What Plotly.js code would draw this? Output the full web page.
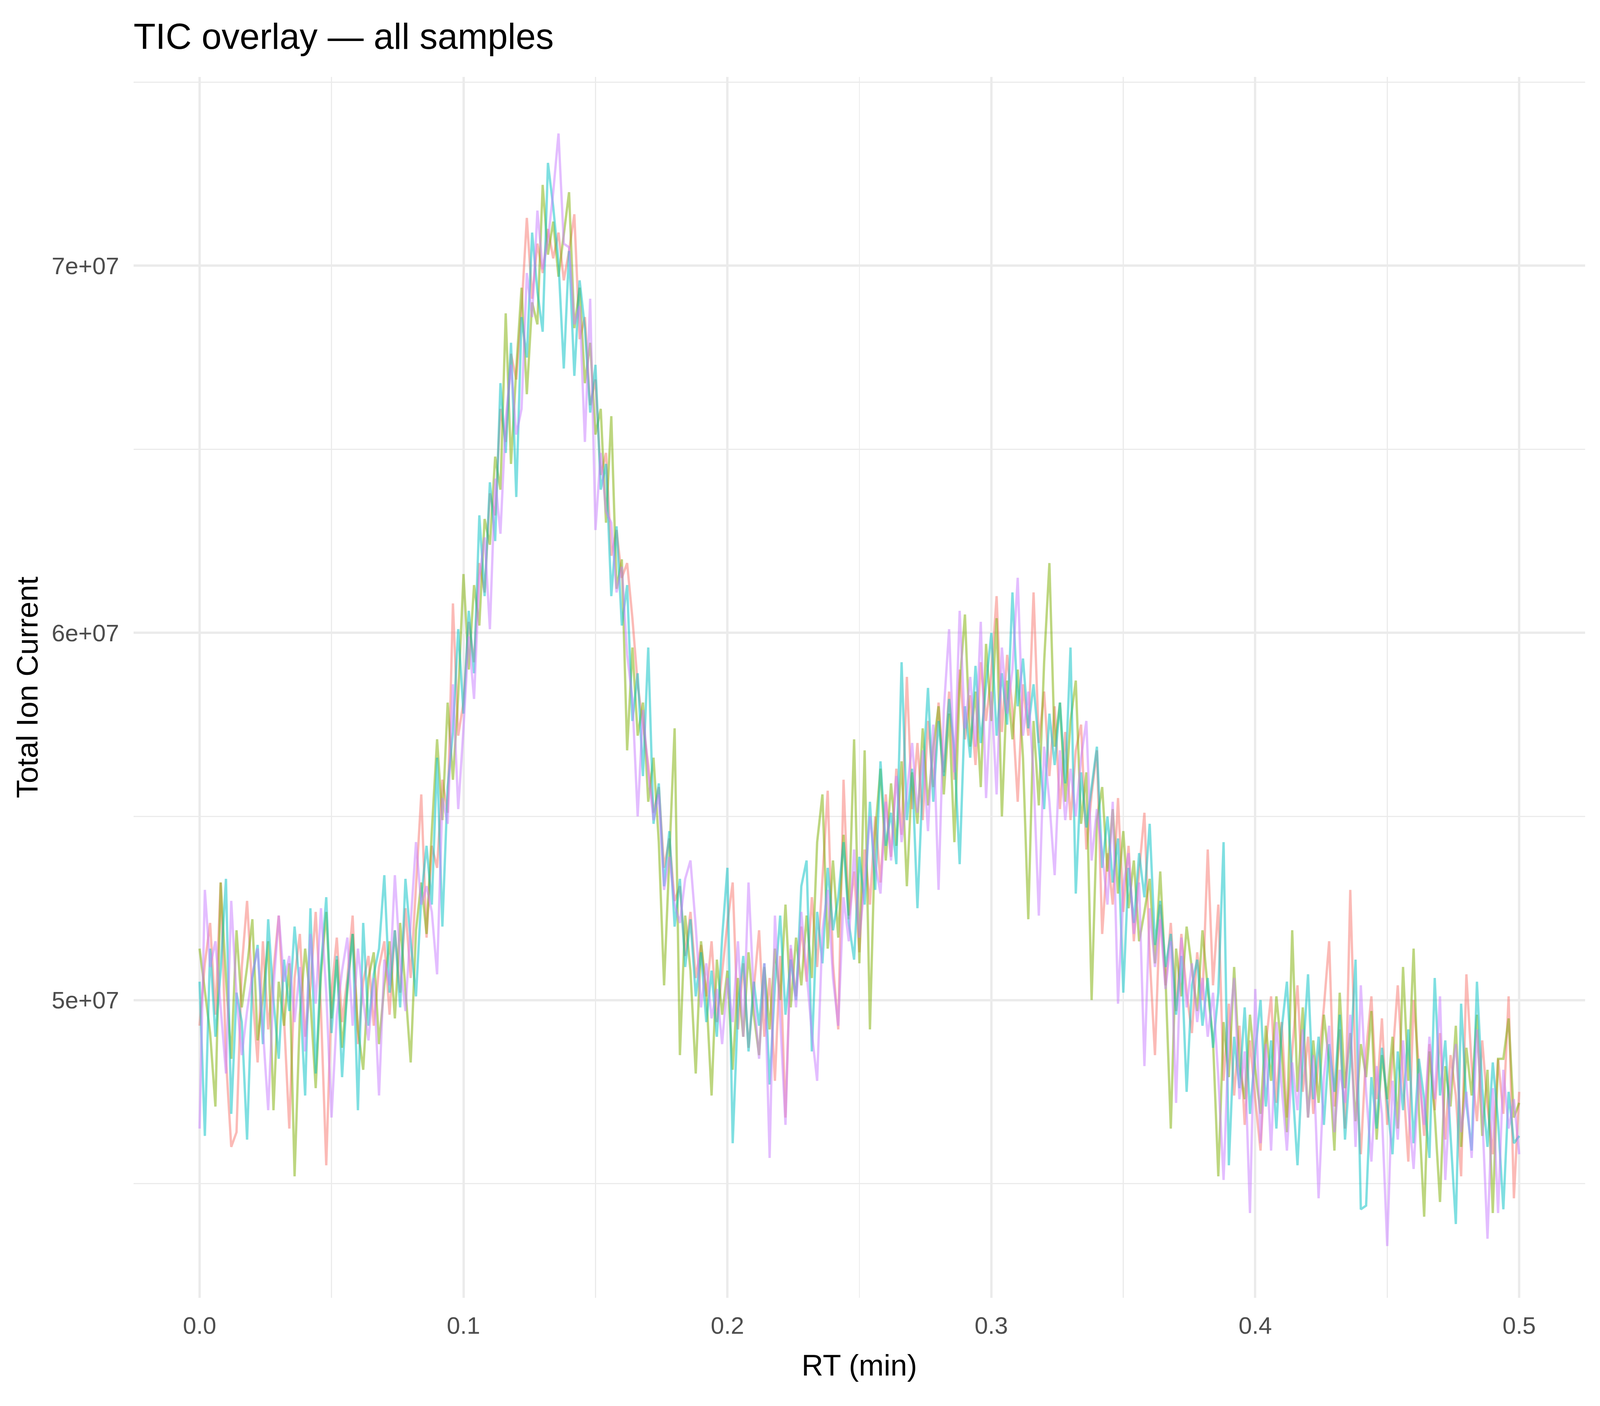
<!DOCTYPE html>
<html>
<head>
<meta charset="utf-8">
<script src="https://cdn.plot.ly/plotly-3.0.1.min.js"></script>
<style>
  html, body { margin: 0; padding: 0; background: #fff; overflow: hidden; }
</style>
</head>
<body>
<div id="chart"></div>
<script>
// TIC per sample, in units of 1e6 counts, sampled every 0.002 min
const RT_STEP = 0.002

const sample1 = [
  49.3, 51.0, 52.1, 49.6, 53.2, 48.4, 46.0, 46.4, 50.9, 52.7,
  50.2, 48.3, 51.6, 49.2, 50.8, 52.3, 49.5, 46.5, 50.6, 51.8,
  49.0, 50.4, 52.4, 49.7, 45.5, 50.2, 51.7, 49.4, 50.6, 52.3,
  48.8, 50.5, 51.2, 49.3, 50.9, 51.6, 49.6, 51.9, 50.2, 52.5,
  50.6, 53.0, 55.6, 51.7, 54.2, 53.6, 56.0, 55.1, 60.8, 57.2,
  58.1, 60.3, 59.2, 61.9, 61.1, 63.8, 63.2, 66.1, 65.2, 67.6,
  66.9, 68.8, 71.3, 69.1, 70.6, 69.8, 71.0, 70.2, 70.9, 69.6,
  70.4, 71.4, 68.0, 68.6, 66.2, 66.9, 64.3, 64.9, 62.1, 62.8,
  61.5, 61.9, 60.4, 58.6, 57.5, 56.4, 55.1, 55.8, 53.6, 54.4,
  52.7, 53.1, 51.2, 52.4, 50.6, 51.5, 50.1, 51.6, 49.4, 50.8,
  52.1, 53.2, 49.2, 51.0, 48.7, 50.3, 51.9, 49.0, 50.6, 47.8,
  51.2, 46.8, 51.4, 50.1, 52.0, 50.5, 52.8, 50.9, 53.4, 55.7,
  51.0, 49.2, 56.0, 52.2, 53.5, 51.3, 54.1, 52.6, 55.0, 53.2,
  55.6, 53.9, 56.3, 54.5, 58.8, 55.2, 57.0, 54.9, 57.6, 55.8,
  58.1, 56.2, 58.4, 56.0, 59.0, 57.1, 58.3, 56.4, 59.2, 57.6,
  58.9, 61.0, 57.3, 59.4, 57.9, 55.4, 58.6, 57.2, 61.1, 57.0,
  58.4, 56.1, 58.0, 55.2, 57.3, 54.9, 56.8, 57.5, 54.1, 55.6,
  56.8, 51.8, 54.0, 52.6, 55.5, 52.4, 54.2, 51.6, 53.5, 55.1,
  51.2, 48.5, 52.6, 50.4, 52.1, 49.7, 51.8, 50.2, 49.1, 51.3,
  50.0, 54.1, 50.4, 52.6, 47.8, 49.9, 47.4, 49.3, 46.6, 48.9,
  47.3, 45.9, 48.8, 50.1, 47.2, 49.4, 46.8, 48.6, 50.4, 47.5,
  49.0, 46.9, 48.3, 49.8, 51.6, 47.1, 49.2, 46.5, 53.0, 48.0,
  45.8, 48.6, 50.1, 47.3, 49.5, 46.6, 48.4, 50.4, 47.9, 45.6,
  50.0, 48.1, 46.3, 48.8, 47.0, 49.1, 46.2, 48.5, 47.4, 45.2,
  50.7, 48.2, 46.7, 48.9, 47.1, 45.8, 48.4, 46.9, 50.1, 44.6,
  47.5
]

const sample2 = [
  51.4, 50.2, 49.1, 47.1, 53.2, 50.6, 48.4, 51.9, 49.8, 50.9,
  52.2, 48.9, 50.1, 51.6, 47.0, 50.5, 49.3, 51.0, 45.2, 49.6,
  51.4, 50.0, 47.6, 50.7, 52.4, 49.5, 51.1, 48.7, 50.3, 51.8,
  49.2, 48.1, 50.6, 51.3, 48.8, 50.4, 51.6, 49.5, 52.1, 50.3,
  48.3, 51.9, 53.2, 51.8, 54.6, 57.1, 54.9, 58.1, 56.0, 58.3,
  61.6, 59.0, 61.3, 60.2, 63.1, 62.4, 64.8, 63.9, 68.7, 64.6,
  67.2, 69.4, 66.5, 69.0, 68.4, 72.2, 70.3, 71.2, 69.7, 70.8,
  72.0, 68.3, 69.4, 66.8, 67.9, 65.4, 66.1, 63.0, 65.9, 61.2,
  62.0, 56.8, 59.6, 57.2, 58.1, 55.4, 56.6, 54.3, 50.4, 53.9,
  57.4, 48.5, 52.3, 50.8, 48.0, 51.6, 50.2, 47.4, 51.1, 49.6,
  50.8, 48.1, 50.6, 49.0, 51.3, 49.6, 48.5, 50.9, 49.2, 51.4,
  50.0, 52.6, 49.8, 51.7, 50.4, 52.3, 50.6, 54.3, 55.6, 51.4,
  53.8, 51.7, 54.5, 52.3, 57.1, 51.0, 56.8, 49.2, 54.6, 56.3,
  53.8, 55.9, 54.2, 56.5, 53.1, 56.2, 54.8, 57.4, 55.3, 56.9,
  58.0, 55.6, 57.8, 54.3, 58.6, 60.5, 56.9, 58.4, 55.8, 59.7,
  57.6, 60.4, 55.0, 58.7, 57.1, 59.0, 56.6, 52.2, 57.6, 55.3,
  59.2, 61.9, 56.9, 58.1, 55.4, 57.6, 58.7, 54.8, 56.2, 50.0,
  54.9, 55.8, 53.5, 55.2, 52.9, 54.6, 52.5, 53.8, 51.6, 52.4,
  53.3, 51.0, 53.5, 50.6, 46.5, 51.4, 50.1, 52.0, 50.9, 49.7,
  51.9, 50.3, 48.9, 45.2, 49.4, 47.9, 50.9, 48.2, 47.3, 49.6,
  48.1, 46.9, 49.3, 47.8, 50.1, 48.6, 46.4, 51.9, 47.5, 49.8,
  46.8, 48.9, 47.2, 49.6, 48.3, 45.9, 50.2, 47.6, 49.1, 46.7,
  48.8, 47.9, 49.7, 46.2, 48.5, 47.3, 49.0, 46.5, 50.9, 47.8,
  51.4, 47.0, 44.1, 48.6, 46.9, 44.5, 48.2, 47.1, 49.3, 46.0,
  48.7, 47.4, 49.6, 46.3, 48.1, 44.2, 48.4, 48.4, 49.5, 46.8,
  47.2
]

const sample3 = [
  50.5, 46.3, 51.4, 49.0, 50.8, 53.3, 46.9, 50.2, 49.4, 46.2,
  50.6, 51.5, 48.8, 52.2, 50.0, 48.4, 51.1, 49.7, 52.0, 50.3,
  47.4, 52.5, 48.0, 50.9, 52.8, 49.1, 51.2, 47.9, 50.4, 51.8,
  47.0, 52.1, 49.3, 50.7, 51.4, 53.4, 50.2, 51.9, 49.8, 53.3,
  51.6, 50.1, 52.8, 54.2, 52.6, 56.6, 52.0, 55.8, 57.3, 60.1,
  57.8, 60.6, 58.9, 63.2, 61.0, 64.1, 62.5, 66.8, 64.9, 67.9,
  63.7, 68.6, 67.5, 70.9, 69.3, 68.2, 72.8, 71.6, 70.1, 67.2,
  70.4, 67.0, 69.6, 68.3, 66.0, 67.3, 63.9, 64.6, 61.0, 62.9,
  60.2, 61.3, 57.6, 58.9, 56.1, 59.6, 54.8, 55.9, 53.1, 54.6,
  52.0, 53.3, 50.9, 52.2, 50.1, 51.3, 49.4, 50.8, 49.0, 51.7,
  53.6, 46.1, 49.8, 51.2, 48.6, 50.5, 49.3, 51.0, 47.7, 50.4,
  52.3, 49.6, 51.1, 50.0, 53.1, 53.8, 48.6, 52.4, 51.0, 53.6,
  51.9, 52.8, 54.3, 52.1, 51.1, 53.9, 52.6, 55.4, 53.0, 56.5,
  54.2, 55.1, 53.7, 59.2, 54.9, 56.3, 52.5, 56.0, 58.5, 55.4,
  57.6, 56.1, 58.2, 56.8, 53.7, 58.0, 56.6, 59.1, 57.0, 58.6,
  60.0, 57.2, 58.9, 57.5, 61.1, 58.0, 59.3, 57.4, 58.6, 56.9,
  55.2, 57.8, 56.4, 58.1, 55.9, 59.6, 52.9, 56.2, 54.7, 55.8,
  56.9, 53.6, 55.0, 53.2, 54.4, 50.2, 53.6, 52.1, 54.0, 52.8,
  54.8, 51.5, 52.7, 50.9, 51.8, 49.6, 51.2, 47.5, 50.4, 51.1,
  49.3, 50.6, 48.7, 50.2, 54.3, 45.5, 49.0, 47.6, 49.8, 46.9,
  48.6, 50.0, 47.1, 48.9, 46.5, 49.2, 50.5, 47.8, 45.5, 48.4,
  50.7, 47.3, 49.0, 46.6, 48.8, 47.5, 49.6, 46.2, 48.3, 51.1,
  44.3, 44.4, 47.9, 46.5, 48.7, 47.2, 45.8, 48.6, 47.0, 49.2,
  46.1, 48.4, 47.3, 45.7, 50.6, 47.4, 48.9, 46.3, 43.9, 49.9,
  47.2, 45.9, 50.5, 47.6, 46.0, 48.3, 46.7, 44.3, 47.5, 46.1,
  46.3
]

const sample4 = [
  46.5, 53.0, 50.9, 51.6, 49.8, 48.0, 52.7, 50.1, 48.5, 49.7,
  50.7, 51.4, 49.2, 47.0, 50.3, 52.3, 50.5, 51.2, 49.4, 50.9,
  48.6, 51.8, 49.9, 52.5, 50.2, 46.8, 49.6, 50.8, 51.7, 49.3,
  51.4, 50.0, 48.9, 50.6, 47.4, 51.1, 50.4, 53.4, 51.0, 49.7,
  52.1, 54.3, 52.6, 53.1, 52.4, 50.7, 55.5, 54.8, 58.6, 55.2,
  57.4, 59.9, 58.2, 61.5, 62.6, 60.1, 64.2, 62.7, 65.8, 67.3,
  65.4, 66.1, 69.8, 68.6, 71.5, 69.9, 70.7, 72.0, 73.6, 70.6,
  70.5, 68.4, 68.9, 65.2, 69.1, 62.8, 64.9, 63.3, 63.0, 61.1,
  61.8, 59.4, 58.2, 55.0, 57.9, 56.2, 54.9, 55.6, 53.0, 53.9,
  52.6, 52.1, 53.3, 53.8, 52.0, 49.8, 51.0, 49.5, 50.3, 48.8,
  50.6, 49.4, 51.6, 49.0, 53.2, 50.1, 48.4, 51.0, 45.7, 52.3,
  49.5, 46.6, 51.5, 49.8, 52.4, 50.7, 49.1, 47.8, 51.9, 53.0,
  50.6, 49.3, 52.8, 51.6, 54.1, 51.7, 53.2, 55.0, 53.7, 52.9,
  55.4, 53.8, 56.1, 54.3, 55.7, 57.0, 55.1, 56.8, 54.6, 57.5,
  53.0, 57.9, 60.1, 56.2, 60.6, 57.4, 58.8, 56.9, 60.3, 55.5,
  58.4, 55.6, 59.6, 57.8, 59.0, 61.5, 57.2, 58.4, 56.1, 52.3,
  56.9, 55.4, 53.4, 56.8, 54.9, 56.3, 55.0, 56.6, 57.6, 53.8,
  55.2, 54.0, 52.6, 55.4, 49.9, 53.1, 54.0, 51.8, 53.2, 48.2,
  52.5, 50.9, 52.2, 50.3, 51.6, 47.2, 51.7, 49.8, 51.0, 49.4,
  50.6, 49.0, 50.2, 47.9, 45.1, 49.1, 50.6, 47.3, 48.6, 44.2,
  50.3, 46.1, 48.8, 45.9, 49.4, 47.6, 45.9, 48.3, 47.0, 49.2,
  46.8, 48.5, 44.6, 47.9, 49.3, 46.4, 48.1, 47.2, 49.6, 46.0,
  50.4, 47.5, 45.6, 48.2, 46.9, 43.3, 47.8, 46.2, 48.9, 47.1,
  45.4, 48.0, 46.6, 49.0, 47.3, 50.1, 45.1, 47.7, 48.8, 46.4,
  47.5, 45.7, 49.2, 46.9, 43.5, 47.6, 44.2, 48.1, 46.5, 47.3,
  45.8
]

const samples = [sample1, sample2, sample3, sample4]
const sampleColors = ['#F8766D', '#7CAE00', '#00BFC4', '#C77CFF']

const xTickVals = [0, 0.1, 0.2, 0.3, 0.4, 0.5]
const xTickText = ['0.0', '0.1', '0.2', '0.3', '0.4', '0.5']
const xMinorVals = [0.05, 0.15, 0.25, 0.35, 0.45]
const yTickVals = [50, 60, 70]
const yTickText = ['5e+07', '6e+07', '7e+07']
const yMinorVals = [45, 55, 65, 75]

function hexToRgba(hex, a) {
    const n = parseInt(hex.slice(1), 16)
    return `rgba(${(n >> 16) & 255}, ${(n >> 8) & 255}, ${n & 255}, ${a})`
}

// laid out for a 4800 x 3600 canvas; stretch to fill whatever viewport we get
const W = window.innerWidth || 4800
const H = window.innerHeight || 3600
const kx = W / 4800
const ky = H / 3600
const k = Math.min(kx, ky)

const traces = samples.map((vals, i) => ({
    x: vals.map((_, j) => +(j * RT_STEP).toFixed(3)),
    y: vals,
    type: 'scatter',
    mode: 'lines',
    name: 'sample ' + (i + 1),
    line: { color: hexToRgba(sampleColors[i], 0.5), width: 7 * k },
    hoverinfo: 'skip'
}))

const grid = '#EBEBEB'
const layout = {
    width: W,
    height: H,
    margin: { l: 401 * kx, r: 45 * kx, t: 197 * ky, b: 277 * ky, pad: 0 },
    paper_bgcolor: '#FFFFFF',
    plot_bgcolor: '#FFFFFF',
    font: { family: 'Liberation Sans, Arial, sans-serif', color: '#000000' },
    showlegend: false,
    title: {
        text: 'TIC overlay — all samples',
        font: { size: 108 * k, color: '#000000' },
        x: 0, xref: 'paper', xanchor: 'left',
        y: 1 - 125 / 3600, yref: 'container', yanchor: 'bottom'
    },
    xaxis: {
        range: [-0.025, 0.525],
        tickvals: xTickVals,
        ticktext: xTickText,
        ticks: '',
        ticklabelstandoff: 30 * ky,
        tickfont: { size: 72 * k, color: '#4D4D4D' },
        showgrid: true, gridcolor: grid, gridwidth: 7 * k,
        minor: { tickvals: xMinorVals, showgrid: true, gridcolor: grid, gridwidth: 3.5 * k, ticks: '' },
        zeroline: false, showline: false,
        automargin: false,
        title: { text: 'RT (min)', font: { size: 90 * k, color: '#000000' }, standoff: 40 * ky }
    },
    yaxis: {
        range: [41.89, 75.14],
        tickvals: yTickVals,
        ticktext: yTickText,
        // invisible ticks keep the labels clear of the panel, as in the original
        ticks: 'outside',
        ticklen: 28 * kx,
        tickcolor: 'rgba(0,0,0,0)',
        tickfont: { size: 72 * k, color: '#4D4D4D' },
        showgrid: true, gridcolor: grid, gridwidth: 7 * k,
        minor: { tickvals: yMinorVals, showgrid: true, gridcolor: grid, gridwidth: 3.5 * k, ticks: '' },
        zeroline: false, showline: false,
        automargin: false,
        title: { text: 'Total Ion Current', font: { size: 90 * k, color: '#000000' }, standoff: 12 * kx }
    }
}

Plotly.newPlot('chart', traces, layout, { displayModeBar: false, staticPlot: true })
</script>
</body>
</html>
